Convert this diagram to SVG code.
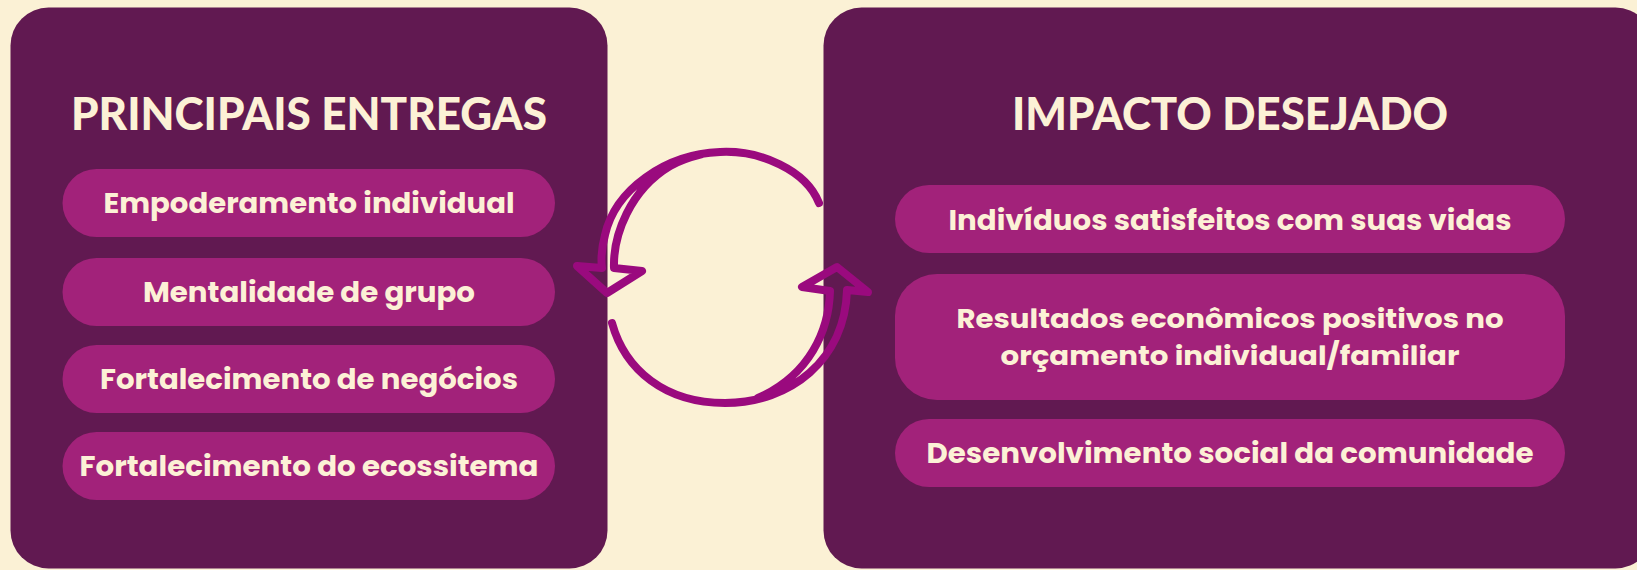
<svg xmlns="http://www.w3.org/2000/svg" width="1637" height="570" viewBox="0 0 1637 570">
<style>
.panel{fill:#611951}
.pill{fill:#A2227A}
.title{font-family:Lato,"Liberation Sans",sans-serif;font-weight:900;font-size:46px;fill:#FCF1D6;text-anchor:middle}
.item{font-family:Poppins,"Open Sans","Liberation Sans",sans-serif;font-weight:700;font-size:28px;fill:#FCF1D6;text-anchor:middle}
.item2{font-size:26px}
.arrow{fill:none;stroke:#9A0A7E;stroke-width:8;stroke-linecap:round;stroke-linejoin:round}
</style>
<rect x="0" y="0" width="1637" height="570" fill="#FBF1D5"/>
<g id="panel-left">
<rect class="panel" x="10.5" y="7.5" width="597" height="561" rx="38"/>
<text class="title" x="309" y="130" textLength="476" lengthAdjust="spacingAndGlyphs">PRINCIPAIS ENTREGAS</text>
</g>
<g id="item-empoderamento">
<rect class="pill" x="62.5" y="169" width="492.5" height="68" rx="34"/>
<text class="item" x="309" y="213" textLength="411" lengthAdjust="spacingAndGlyphs">Empoderamento individual</text>
</g>
<g id="item-mentalidade">
<rect class="pill" x="62.5" y="258" width="492.5" height="68" rx="34"/>
<text class="item" x="309" y="302" textLength="332" lengthAdjust="spacingAndGlyphs">Mentalidade de grupo</text>
</g>
<g id="item-negocios">
<rect class="pill" x="62.5" y="345" width="492.5" height="68" rx="34"/>
<text class="item" x="309" y="389" textLength="418" lengthAdjust="spacingAndGlyphs">Fortalecimento de negócios</text>
</g>
<g id="item-ecossistema">
<rect class="pill" x="62.5" y="432" width="492.5" height="68" rx="34"/>
<text class="item" x="309" y="476" textLength="459" lengthAdjust="spacingAndGlyphs">Fortalecimento do ecossitema</text>
</g>
<g id="panel-right">
<rect class="panel" x="823.5" y="7.5" width="830" height="561" rx="38"/>
<text class="title" x="1230" y="130" textLength="436" lengthAdjust="spacingAndGlyphs">IMPACTO DESEJADO</text>
</g>
<g id="item-satisfeitos">
<rect class="pill" x="895" y="185" width="670" height="68" rx="34"/>
<text class="item" x="1230" y="230" textLength="563" lengthAdjust="spacingAndGlyphs">Indivíduos satisfeitos com suas vidas</text>
</g>
<g id="item-economicos">
<rect class="pill" x="895" y="274" width="670" height="126" rx="42"/>
<text class="item item2" x="1230" y="328" textLength="547" lengthAdjust="spacingAndGlyphs">Resultados econômicos positivos no</text>
<text class="item item2" x="1230" y="365" textLength="459" lengthAdjust="spacingAndGlyphs">orçamento individual/familiar</text>
</g>
<g id="item-social">
<rect class="pill" x="895" y="419" width="670" height="68" rx="34"/>
<text class="item" x="1230" y="463" textLength="607" lengthAdjust="spacingAndGlyphs">Desenvolvimento social da comunidade</text>
</g>
<g id="connectors">
<path class="arrow" d="M819 203 C806 170 760 150 720 152 C665 154 615 190 605 235 C601 250 601 260 602 268 L577 266 L607 293 L642 271 L614 268 C613 235 630 190 670 166 C680 160 690 157 702 154"/>
<path class="arrow" d="M612 323 C625 370 665 403 725 403 C790 403 845 360 847 290 L868 292 L837 267 L802 287 L830 291 C829 330 810 375 758 398"/>
</g>
</svg>
